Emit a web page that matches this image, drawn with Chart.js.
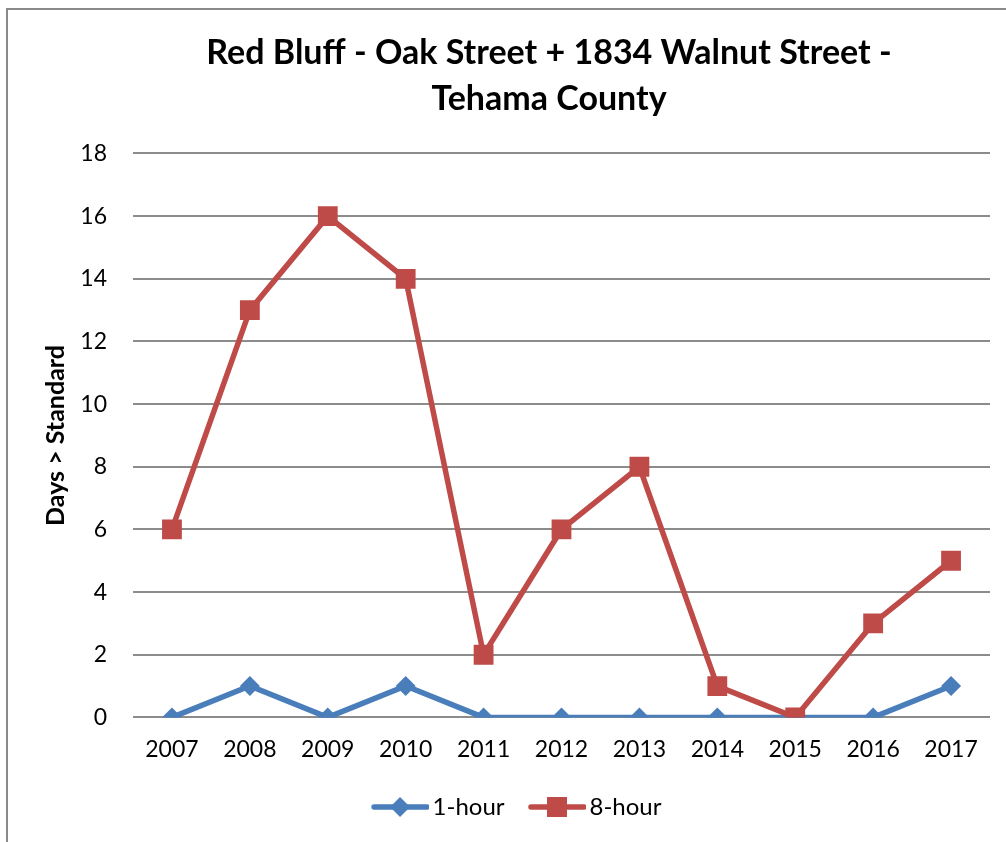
<!DOCTYPE html>
<html>
<head>
<meta charset="utf-8">
<script src="https://cdn.jsdelivr.net/npm/chart.js@4"></script>
<style>
  html, body { margin: 0; padding: 0; background: #fff; overflow: hidden; }
  #wrap { position: relative; width: 1006px; height: 842px; }
  #frame { position: absolute; left: 6px; top: 8px; width: 1100px; height: 900px;
           border-left: 2px solid #8a8a8a; border-top: 2px solid #8a8a8a; }
  canvas { position: absolute; left: 0; top: 0; }
</style>
</head>
<body>
<div id="wrap">
  <div id="frame"></div>
  <canvas id="c" width="1006" height="842"></canvas>
</div>
<script>
const titleLines = ["Red Bluff - Oak Street + 1834 Walnut Street -", "Tehama County"];
const yAxisTitle = "Days > Standard";
const years = ["2007","2008","2009","2010","2011","2012","2013","2014","2015","2016","2017"];
const oneHour = [0, 1, 0, 1, 0, 0, 0, 0, 0, 0, 1];
const eightHour = [6, 13, 16, 14, 2, 6, 8, 1, 0, 3, 5];
const seriesNames = ["1-hour", "8-hour"];
const yMin = 0, yMax = 18, yStep = 2;

const BLUE = "#4A7EBB";
const RED = "#BE4B48";
const FONT = "Lato, 'Open Sans', sans-serif";

// legend icon: line with marker; canvas 80 wide, centred on a 63-px legend box
function legendIcon(color, style) {
  const cv = document.createElement("canvas");
  cv.width = 80; cv.height = 22;
  const g = cv.getContext("2d");
  g.strokeStyle = color; g.lineWidth = 5.5; g.lineCap = "round";
  g.beginPath(); g.moveTo(25, 11); g.lineTo(78, 11); g.stroke();
  g.fillStyle = color;
  const cx = 51;
  if (style === "diamond") {
    g.beginPath(); g.moveTo(cx, 1); g.lineTo(cx + 10, 11); g.lineTo(cx, 21); g.lineTo(cx - 10, 11); g.closePath(); g.fill();
  } else {
    g.fillRect(cx - 10, 1, 20, 20);
  }
  return cv;
}
const icons = [legendIcon(BLUE, "diamond"), legendIcon(RED, "square")];

const shiftPlugin = {
  id: "shiftBoxes",
  afterLayout(chart) {
    const t = chart.titleBlock;
    if (t) { t.left = 8; t.right = 1090; }
    const l = chart.legend;
    if (l) { l.left = 8; l.right = 1011; }
  }
};

new Chart(document.getElementById("c"), {
  type: "line",
  data: {
    labels: years,
    datasets: [
      { label: seriesNames[0], data: oneHour, borderColor: BLUE, backgroundColor: BLUE,
        borderWidth: 5.5, pointStyle: "rectRot", pointRadius: 10, pointHoverRadius: 10,
        pointBorderWidth: 0, tension: 0, order: 2 },
      { label: seriesNames[1], data: eightHour, borderColor: RED, backgroundColor: RED,
        borderWidth: 5.5, pointStyle: "rect", pointRadius: 14, pointHoverRadius: 14,
        pointBorderWidth: 0, tension: 0, order: 1 }
    ]
  },
  options: {
    responsive: false,
    animation: false,
    events: [],
    layout: { padding: { left: 41, right: 16, top: 10, bottom: 13 } },
    plugins: {
      title: {
        display: true, text: titleLines, color: "#000",
        font: { family: FONT, size: 34, weight: "bold", lineHeight: 1.36 },
        padding: { top: 20, bottom: 31 }
      },
      legend: {
        position: "bottom",
        labels: {
          usePointStyle: true, pointStyleWidth: 63, padding: 10, color: "#000",
          font: { family: FONT, size: 24 },
          generateLabels(chart) {
            return chart.data.datasets.map((ds, i) => ({
              text: ds.label, pointStyle: icons[i], fillStyle: ds.borderColor,
              strokeStyle: ds.borderColor, lineWidth: 0, hidden: false, datasetIndex: i
            }));
          }
        }
      },
      tooltip: { enabled: false }
    },
    scales: {
      x: {
        offset: true,
        afterFit(scale) { scale.height += 4; },
        grid: { display: false, drawTicks: false },
        border: { display: false },
        ticks: { color: "#000", font: { family: FONT, size: 23 }, padding: 18, maxRotation: 0 }
      },
      y: {
        min: yMin, max: yMax,
        afterFit(scale) { scale.width = 92; },
        grid: { color: "#8c8c8c", lineWidth: 2, drawTicks: false },
        border: { display: false },
        ticks: { stepSize: yStep, color: "#000", font: { family: FONT, size: 23 }, padding: 26 },
        title: { display: true, text: yAxisTitle, color: "#000",
                 font: { family: FONT, size: 25, weight: "bold" }, padding: { top: 0, bottom: 0 } }
      }
    }
  },
  plugins: [shiftPlugin]
});
</script>
</body>
</html>
